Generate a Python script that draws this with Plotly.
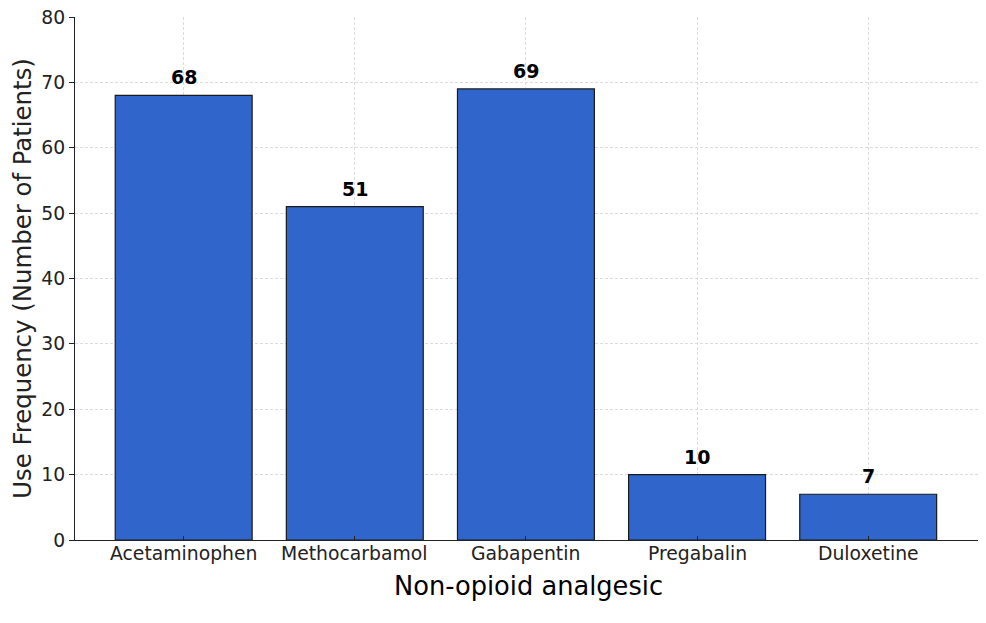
import plotly.graph_objects as go

categories = ["Acetaminophen", "Methocarbamol", "Gabapentin", "Pregabalin", "Duloxetine"]
values = [68, 51, 69, 10, 7]
y_ticks = [0, 10, 20, 30, 40, 50, 60, 70, 80]

fig = go.Figure()
fig.add_trace(go.Bar(
    x=list(range(len(categories))), y=values, width=0.8,
    marker=dict(color="#3066cc", line=dict(color="#1a1a1a", width=1.2)),
    hoverinfo="skip",
))
for i, v in enumerate(values):
    fig.add_annotation(x=i, y=v, text=f"<b>{v}</b>", showarrow=False,
                       yanchor="bottom", yshift=5,
                       font=dict(family="DejaVu Sans", size=19, color="black"))
for i, c in enumerate(categories):
    fig.add_annotation(x=i, y=0, xref="x", yref="paper", text=c, showarrow=False,
                       yanchor="top", yshift=-1,
                       font=dict(family="DejaVu Sans", size=18.8, color="#222"))

fig.update_layout(
    width=986, height=623,
    margin=dict(l=67, r=12, t=9, b=91),
    paper_bgcolor="white", plot_bgcolor="white",
    showlegend=False,
    font=dict(family="DejaVu Sans", color="#222"),
    xaxis=dict(
        range=[-0.635, 4.665], tickmode="array",
        tickvals=list(range(len(categories))), showticklabels=False,
        showgrid=True, gridcolor="#dcdcdc", griddash="3px,2px", gridwidth=0.8,
        showline=True, linecolor="#222", linewidth=1.2,
        ticks="inside", ticklen=4, tickcolor="#222",
        layer="above traces", zeroline=False, automargin=False,
        title=dict(text="Non-opioid analgesic", font=dict(size=25.7, color="black"), standoff=36),
    ),
    yaxis=dict(
        range=[0, 80], tickmode="array", tickvals=y_ticks,
        tickfont=dict(size=18.8, color="#222"), ticklabeloverflow="allow",
        showgrid=True, gridcolor="#dcdcdc", griddash="3px,2px", gridwidth=0.8,
        showline=True, linecolor="#222", linewidth=1.2,
        ticks="outside", ticklen=5, tickcolor="#222",
        layer="above traces", zeroline=False, automargin=False,
        title=dict(text="Use Frequency (Number of Patients)", font=dict(size=24.4, color="#222"), standoff=10),
    ),
)
fig.write_html("out.html")
